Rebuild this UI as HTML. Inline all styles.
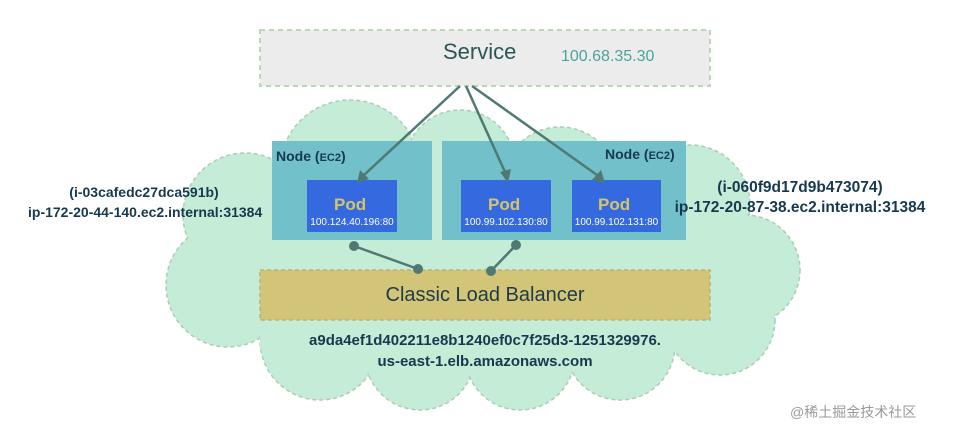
<!DOCTYPE html>
<html><head><meta charset="utf-8"><style>
body{margin:0;width:955px;height:431px;background:#fff;overflow:hidden;position:relative;font-family:"Liberation Sans",Arial,sans-serif}
.a{position:absolute;white-space:nowrap}
.b{font-weight:bold;color:#17394f;font-size:15px}
</style></head><body>
<svg width="955" height="431" style="position:absolute;left:0;top:0">
<g fill="#c4ecd6" stroke="#a9cdb9" stroke-width="1.5" stroke-dasharray="4,3">
<circle cx="350" cy="170" r="70"/>
<circle cx="460" cy="165" r="55"/>
<circle cx="560" cy="185" r="58"/>
<circle cx="690" cy="205" r="60"/>
<circle cx="245" cy="215" r="62"/>
<circle cx="228" cy="285" r="62"/>
<circle cx="745" cy="270" r="55"/>
<circle cx="720" cy="320" r="55"/>
<circle cx="320" cy="340" r="60"/>
<circle cx="420" cy="355" r="55"/>
<circle cx="520" cy="355" r="55"/>
<circle cx="620" cy="345" r="55"/>
</g>
<g fill="#c4ecd6">
<circle cx="350" cy="170" r="68"/>
<circle cx="460" cy="165" r="53"/>
<circle cx="560" cy="185" r="56"/>
<circle cx="690" cy="205" r="58"/>
<circle cx="245" cy="215" r="60"/>
<circle cx="228" cy="285" r="60"/>
<circle cx="745" cy="270" r="53"/>
<circle cx="720" cy="320" r="53"/>
<circle cx="320" cy="340" r="58"/>
<circle cx="420" cy="355" r="53"/>
<circle cx="520" cy="355" r="53"/>
<circle cx="620" cy="345" r="53"/>
<rect x="260" y="180" width="480" height="170"/>
</g>
<rect x="260" y="30" width="450" height="56" fill="#ececec" stroke="#b9d9b6" stroke-width="2" stroke-dasharray="5,4"/>
<rect x="272" y="141" width="160" height="99" fill="#72c0c9"/>
<rect x="442" y="141" width="244" height="99" fill="#72c0c9"/>
<rect x="307" y="180" width="90" height="52" fill="#3469e0"/>
<rect x="461" y="180" width="90" height="52" fill="#3469e0"/>
<rect x="572" y="180" width="89" height="52" fill="#3469e0"/>
<rect x="260" y="270" width="450" height="50" fill="#d2c577" stroke="#bbb078" stroke-width="1.5" stroke-dasharray="4,3"/>
<g stroke="#4f7a74" stroke-width="2.5" fill="none">
<line x1="460" y1="86" x2="364" y2="175"/>
<line x1="466" y1="86" x2="505" y2="172"/>
<line x1="472" y1="86" x2="597" y2="175"/>
<line x1="354" y1="246" x2="418" y2="269"/>
<line x1="491" y1="271" x2="516" y2="245"/>
</g>
<g fill="#4f7a74">
<polygon points="357,183 360,170 369,179"/>
<polygon points="508,183 500,172 511,169"/>
<polygon points="605,183 592,180 601,170"/>
<circle cx="354" cy="246" r="5"/><circle cx="418" cy="269" r="5"/><circle cx="491" cy="271" r="5"/><circle cx="516" cy="245" r="5"/></g>
</svg>
<div class="a" style="left:443px;top:39px;font-size:22px;color:#2c5656">Service</div>
<div class="a" style="left:561px;top:48px;font-size:16px;color:#4aa39a">100.68.35.30</div>
<div class="a b" style="left:276px;top:148px;font-size:14px">Node (<span style="font-size:11px">EC2</span>)</div>
<div class="a b" style="left:605px;top:146px;font-size:14px">Node (<span style="font-size:11px">EC2</span>)</div>
<div class="a" style="left:334px;top:195px;font-size:17px;font-weight:bold;color:#d6c46c">Pod</div>
<div class="a" style="left:488px;top:195px;font-size:17px;font-weight:bold;color:#d6c46c">Pod</div>
<div class="a" style="left:598px;top:195px;font-size:17px;font-weight:bold;color:#d6c46c">Pod</div>
<div class="a" style="left:307px;top:217px;width:90px;text-align:center;font-size:10px;color:#fff">100.124.40.196:80</div>
<div class="a" style="left:459px;top:217px;width:94px;text-align:center;font-size:10px;color:#fff">100.99.102.130:80</div>
<div class="a" style="left:570px;top:217px;width:93px;text-align:center;font-size:10px;color:#fff">100.99.102.131:80</div>
<div class="a" style="left:260px;top:284px;width:450px;text-align:center;font-size:20px;color:#1e3a4c">Classic Load Balancer</div>
<div class="a b" style="left:260px;top:332px;width:450px;text-align:center">a9da4ef1d402211e8b1240ef0c7f25d3-1251329976.</div>
<div class="a b" style="left:260px;top:353px;width:450px;text-align:center">us-east-1.elb.amazonaws.com</div>
<div class="a b" style="left:28px;top:184px;width:232px;text-align:center;font-size:14px">(i-03cafedc27dca591b)</div>
<div class="a b" style="left:28px;top:204px;width:232px;text-align:center;font-size:14px">ip-172-20-44-140.ec2.internal:31384</div>
<div class="a b" style="left:668px;top:179px;width:264px;text-align:center;font-size:15.5px">(i-060f9d17d9b473074)</div>
<div class="a b" style="left:668px;top:199px;width:264px;text-align:center;font-size:15.5px">ip-172-20-87-38.ec2.internal:31384</div>
<div class="a" style="left:790px;top:402px;font-size:14px;color:#9a9a9a;font-family:'Liberation Sans','Noto Sans CJK SC',sans-serif">@稀土掘金技术社区</div>
</body></html>
